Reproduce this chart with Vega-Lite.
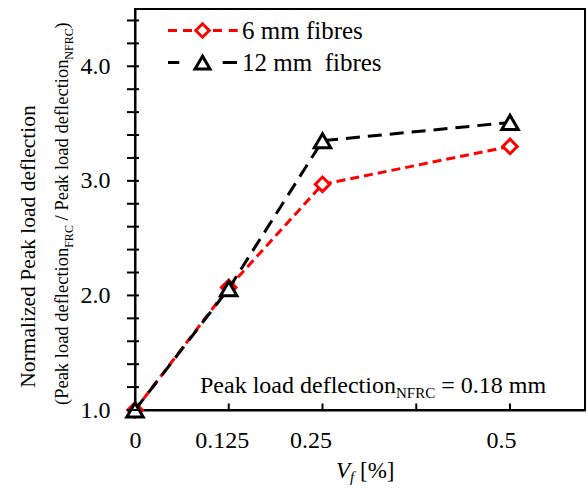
{
  "$schema": "https://vega.github.io/schema/vega-lite/v6.json",
  "width": 450,
  "height": 401,
  "autosize": {"type": "none"},
  "padding": {"left": 135, "top": 9, "right": 3, "bottom": 81},
  "background": "white",
  "resolve": {"axis": {"x": "independent", "y": "independent"}},
  "config": {
    "font": "Liberation Serif",
    "view": {"stroke": "black", "strokeWidth": 2},
    "axis": {
      "grid": false,
      "domain": true,
      "ticks": false,
      "domainColor": "black",
      "domainWidth": 2,
      "labelColor": "black",
      "labelFont": "Liberation Serif",
      "labelFontSize": 24,
      "titleFont": "Liberation Serif",
      "titleColor": "black",
      "titleFontWeight": "normal"
    },
    "legend": {"labelFont": "Liberation Serif", "labelFontSize": 25, "labelColor": "black"}
  },
  "layer": [
    {
      "data": {
        "values": [
          {"Vf": 0, "ratio": 1.0, "series": "6 mm fibres"},
          {"Vf": 0.125, "ratio": 2.07, "series": "6 mm fibres"},
          {"Vf": 0.25, "ratio": 2.97, "series": "6 mm fibres"},
          {"Vf": 0.5, "ratio": 3.30, "series": "6 mm fibres"},
          {"Vf": 0, "ratio": 1.0, "series": "12 mm\u00a0 fibres"},
          {"Vf": 0.125, "ratio": 2.06, "series": "12 mm\u00a0 fibres"},
          {"Vf": 0.25, "ratio": 3.35, "series": "12 mm\u00a0 fibres"},
          {"Vf": 0.5, "ratio": 3.51, "series": "12 mm\u00a0 fibres"}
        ]
      },
      "encoding": {
        "x": {
          "field": "Vf",
          "type": "quantitative",
          "scale": {"domain": [0, 0.6], "nice": false, "zero": false},
          "axis": {
            "values": [0, 0.125, 0.25, 0.375, 0.5],
            "labelPadding": 18,
            "title": null,
            "labelFlush": false,
            "labelOverlap": false,
            "labelExpr": "datum.value === 0.375 ? '' : '' + datum.value",
            "labelOffset": {"condition": [{"test": "datum.value === 0.125", "value": -7}, {"test": "datum.value === 0.25", "value": -12}, {"test": "datum.value === 0.5", "value": -9}], "value": 0}
          }
        },
        "y": {
          "field": "ratio",
          "type": "quantitative",
          "scale": {"domain": [1, 4.5], "nice": false, "zero": false},
          "axis": {
            "values": [1, 2, 3, 4],
            "labelPadding": 25,
            "labelFlush": false,
            "labelOverlap": false,
            "format": ".1f",
            "title": "Normalized Peak load deflection",
            "titleFontSize": 21.5,
            "titleAngle": 270,
            "titleX": -101,
            "titleY": 237,
            "titleAlign": "center",
            "titleBaseline": "alphabetic"
          }
        },
        "color": {
          "field": "series",
          "type": "nominal",
          "scale": {"domain": ["6 mm fibres", "12 mm\u00a0 fibres"], "range": ["#ff0000", "#000000"]},
          "legend": {
            "title": null,
            "orient": "none",
            "legendX": 55,
            "legendY": 9,
            "padding": 0,
            "symbolSize": 225,
            "symbolStrokeWidth": 3,
            "labelFont": "Liberation Serif",
            "labelFontSize": 25,
            "labelColor": "black",
            "labelOffset": 27,
            "labelLimit": 300,
            "rowPadding": 6,
            "encode": {
              "symbols": {
                "update": {
                  "shape": {"signal": "datum.value === '6 mm fibres' ? 'M-4.6,0H-3.4M-2.6,0H-1.4M0,-0.9L0.9,0L0,0.9L-0.9,0ZM1.4,0H2.6M3.5,0H4.7' : 'M-4.6,0H-3.1M0,-0.85L1,0.85L-1,0.85ZM2.7,0H4.6'"},
                  "stroke": {"signal": "datum.value === '6 mm fibres' ? '#ff0000' : '#000000'"},
                  "fill": {"value": "white"},
                  "strokeWidth": {"value": 3},
                  "opacity": {"value": 1},
                  "strokeDash": {"value": []}
                }
              }
            }
          }
        }
      },
      "layer": [
        {
          "transform": [{"filter": "datum.series === '6 mm fibres'"}],
          "mark": {"type": "line", "strokeDash": [9, 5], "strokeWidth": 3}
        },
        {
          "transform": [{"filter": "datum.series === '6 mm fibres'"}],
          "mark": {"type": "point", "shape": "diamond", "filled": false, "fill": "white", "fillOpacity": 1, "size": 210, "strokeWidth": 3, "opacity": 1}
        },
        {
          "transform": [{"filter": "datum.series !== '6 mm fibres'"}],
          "mark": {"type": "line", "strokeDash": [14, 8], "strokeWidth": 3}
        },
        {
          "transform": [{"filter": "datum.series !== '6 mm fibres'"}],
          "mark": {"type": "point", "shape": "triangle-up", "filled": false, "fill": "white", "fillOpacity": 1, "size": 270, "strokeWidth": 3, "opacity": 1}
        }
      ]
    },
    {
      "data": {"values": [{"v": 1}, {"v": 1.2}, {"v": 1.4}, {"v": 1.6}, {"v": 1.8}, {"v": 2}, {"v": 2.2}, {"v": 2.4}, {"v": 2.6}, {"v": 2.8}, {"v": 3}, {"v": 3.2}, {"v": 3.4}, {"v": 3.6}, {"v": 3.8}, {"v": 4}, {"v": 4.2}, {"v": 4.4}]},
      "mark": {"type": "tick", "orient": "horizontal", "size": 12, "thickness": 2, "color": "black", "opacity": 1},
      "encoding": {"y": {"field": "v", "type": "quantitative", "axis": null}, "x": {"datum": -0.00267, "type": "quantitative", "axis": null}}
    },
    {
      "data": {"values": [{"v": 0.125}, {"v": 0.25}, {"v": 0.375}, {"v": 0.5}]},
      "mark": {"type": "tick", "orient": "vertical", "size": 7, "thickness": 2, "color": "black", "opacity": 1},
      "encoding": {"x": {"field": "v", "type": "quantitative", "axis": null}, "y": {"datum": 1.0262, "type": "quantitative", "axis": null}}
    },
    {
      "data": {"values": [{"t": "(Peak load deflection"}]},
      "mark": {"type": "text", "angle": 270, "align": "left", "baseline": "alphabetic", "font": "Liberation Serif", "fontSize": 18.5, "color": "black"},
      "encoding": {"text": {"field": "t"}, "x": {"datum": -0.0893, "type": "quantitative", "axis": null}, "y": {"datum": 1.0436, "type": "quantitative", "axis": null}}
    },
    {
      "data": {"values": [{"t": "FRC"}]},
      "mark": {"type": "text", "angle": 270, "align": "left", "baseline": "alphabetic", "font": "Liberation Serif", "fontSize": 12, "color": "black"},
      "encoding": {"text": {"field": "t"}, "x": {"datum": -0.0827, "type": "quantitative", "axis": null}, "y": {"datum": 2.4157, "type": "quantitative", "axis": null}}
    },
    {
      "data": {"values": [{"t": "/ Peak load deflection"}]},
      "mark": {"type": "text", "angle": 270, "align": "left", "baseline": "alphabetic", "font": "Liberation Serif", "fontSize": 18.5, "color": "black"},
      "encoding": {"text": {"field": "t"}, "x": {"datum": -0.0893, "type": "quantitative", "axis": null}, "y": {"datum": 2.655, "type": "quantitative", "axis": null}}
    },
    {
      "data": {"values": [{"t": "NFRC"}]},
      "mark": {"type": "text", "angle": 270, "align": "left", "baseline": "alphabetic", "font": "Liberation Serif", "fontSize": 12, "color": "black"},
      "encoding": {"text": {"field": "t"}, "x": {"datum": -0.0827, "type": "quantitative", "axis": null}, "y": {"datum": 4.0575, "type": "quantitative", "axis": null}}
    },
    {
      "data": {"values": [{"t": ")"}]},
      "mark": {"type": "text", "angle": 270, "align": "left", "baseline": "alphabetic", "font": "Liberation Serif", "fontSize": 18.5, "color": "black"},
      "encoding": {"text": {"field": "t"}, "x": {"datum": -0.0893, "type": "quantitative", "axis": null}, "y": {"datum": 4.3307, "type": "quantitative", "axis": null}}
    },
    {
      "data": {"values": [{"t": "Peak load deflection"}]},
      "mark": {"type": "text", "align": "left", "baseline": "alphabetic", "font": "Liberation Serif", "fontSize": 24, "color": "black"},
      "encoding": {"text": {"field": "t"}, "x": {"datum": 0.0867, "type": "quantitative", "axis": null}, "y": {"datum": 1.1484, "type": "quantitative", "axis": null}}
    },
    {
      "data": {"values": [{"t": "NFRC"}]},
      "mark": {"type": "text", "align": "left", "baseline": "alphabetic", "font": "Liberation Serif", "fontSize": 15, "color": "black"},
      "encoding": {"text": {"field": "t"}, "x": {"datum": 0.348, "type": "quantitative", "axis": null}, "y": {"datum": 1.1091, "type": "quantitative", "axis": null}}
    },
    {
      "data": {"values": [{"t": "= 0.18 mm"}]},
      "mark": {"type": "text", "align": "left", "baseline": "alphabetic", "font": "Liberation Serif", "fontSize": 24, "color": "black"},
      "encoding": {"text": {"field": "t"}, "x": {"datum": 0.4083, "type": "quantitative", "axis": null}, "y": {"datum": 1.1484, "type": "quantitative", "axis": null}}
    },
    {
      "data": {"values": [{"t": "V"}]},
      "mark": {"type": "text", "align": "left", "baseline": "alphabetic", "font": "Liberation Serif", "fontStyle": "italic", "fontSize": 23, "color": "black"},
      "encoding": {"text": {"field": "t"}, "x": {"datum": 0.268, "type": "quantitative", "axis": null}, "y": {"datum": 0.4065, "type": "quantitative", "axis": null}}
    },
    {
      "data": {"values": [{"t": "f"}]},
      "mark": {"type": "text", "align": "left", "baseline": "alphabetic", "font": "Liberation Serif", "fontStyle": "italic", "fontSize": 15, "color": "black"},
      "encoding": {"text": {"field": "t"}, "x": {"datum": 0.2867, "type": "quantitative", "axis": null}, "y": {"datum": 0.3716, "type": "quantitative", "axis": null}}
    },
    {
      "data": {"values": [{"t": "[%]"}]},
      "mark": {"type": "text", "align": "left", "baseline": "alphabetic", "font": "Liberation Serif", "fontSize": 23, "color": "black"},
      "encoding": {"text": {"field": "t"}, "x": {"datum": 0.3, "type": "quantitative", "axis": null}, "y": {"datum": 0.4065, "type": "quantitative", "axis": null}}
    }
  ]
}
